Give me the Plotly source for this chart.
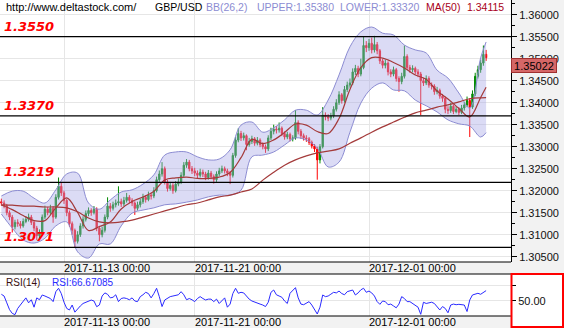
import pandas as pd
import plotly.graph_objects as go

# ---- GBP/USD, 3-hour bars (weekends excluded) ----
bar_times = [t for t in pd.date_range("2017-11-08 03:00", "2017-12-08 09:00", freq="3h")
             if t.dayofweek < 5]

first_open = 1.3175
closes = [
    1.3172, 1.3165, 1.3150, 1.3140, 1.3118, 1.3128, 1.3125, 1.3120, 1.3130, 1.3135,
    1.3140, 1.3128, 1.3115, 1.3098, 1.3105, 1.3140, 1.3158, 1.3150, 1.3160, 1.3140,
    1.3185, 1.3210, 1.3195, 1.3178, 1.3150, 1.3125, 1.3110, 1.3085, 1.3100, 1.3120,
    1.3135, 1.3148, 1.3155, 1.3150, 1.3158, 1.3115, 1.3100, 1.3110, 1.3140, 1.3165,
    1.3160, 1.3168, 1.3172, 1.3175, 1.3170, 1.3178, 1.3185, 1.3178, 1.3172, 1.3160,
    1.3168, 1.3175, 1.3185, 1.3180, 1.3190, 1.3188, 1.3200, 1.3225, 1.3238, 1.3250,
    1.3220, 1.3205, 1.3212, 1.3200, 1.3215, 1.3220, 1.3235, 1.3258, 1.3265, 1.3250,
    1.3245, 1.3240, 1.3235, 1.3242, 1.3238, 1.3230, 1.3240, 1.3232, 1.3225, 1.3238,
    1.3245, 1.3250, 1.3245, 1.3240, 1.3235, 1.3280, 1.3315, 1.3330, 1.3320, 1.3325,
    1.3305, 1.3312, 1.3318, 1.3308, 1.3315, 1.3305, 1.3300, 1.3295, 1.3320, 1.3335,
    1.3340, 1.3338, 1.3342, 1.3330, 1.3322, 1.3328, 1.3318, 1.3320, 1.3355, 1.3335,
    1.3325, 1.3320, 1.3318, 1.3310, 1.3302, 1.3295, 1.3270, 1.3300, 1.3372, 1.3368,
    1.3365, 1.3370, 1.3385, 1.3400, 1.3418, 1.3405, 1.3430, 1.3440, 1.3445, 1.3470,
    1.3478, 1.3465, 1.3480, 1.3530, 1.3525, 1.3535, 1.3520, 1.3532, 1.3518, 1.3495,
    1.3485, 1.3490, 1.3470, 1.3465, 1.3475, 1.3455, 1.3448, 1.3460, 1.3505, 1.3480,
    1.3475, 1.3478, 1.3470, 1.3465, 1.3450, 1.3445, 1.3455, 1.3440, 1.3438, 1.3425,
    1.3428, 1.3415, 1.3410, 1.3385, 1.3382, 1.3392, 1.3380, 1.3385, 1.3378, 1.3388,
    1.3395, 1.3405, 1.3390, 1.3420, 1.3460, 1.3475, 1.3490, 1.3510, 1.35022,
]
highs = [
    1.3182, 1.3178, 1.3170, 1.3155, 1.3145, 1.3134, 1.3135, 1.3131, 1.3137, 1.3142,
    1.3148, 1.3145, 1.3132, 1.3120, 1.3112, 1.3146, 1.3166, 1.3163, 1.3168, 1.3164,
    1.3192, 1.3230, 1.3218, 1.3200, 1.3182, 1.3155, 1.3130, 1.3114, 1.3108, 1.3126,
    1.3142, 1.3155, 1.3162, 1.3160, 1.3165, 1.3162, 1.3120, 1.3118, 1.3146, 1.3185,
    1.3172, 1.3175, 1.3180, 1.3210, 1.3182, 1.3186, 1.3195, 1.3190, 1.3183, 1.3176,
    1.3175, 1.3182, 1.3193, 1.3190, 1.3198, 1.3196, 1.3208, 1.3232, 1.3246, 1.3265,
    1.3255, 1.3225, 1.3220, 1.3217, 1.3222, 1.3228, 1.3242, 1.3265, 1.3272, 1.3270,
    1.3256, 1.3252, 1.3246, 1.3250, 1.3248, 1.3243, 1.3247, 1.3245, 1.3237, 1.3244,
    1.3252, 1.3257, 1.3255, 1.3250, 1.3245, 1.3286, 1.3322, 1.3342, 1.3336, 1.3332,
    1.3328, 1.3320, 1.3325, 1.3322, 1.3322, 1.3319, 1.3310, 1.3305, 1.3326, 1.3343,
    1.3350, 1.3347, 1.3355, 1.3346, 1.3335, 1.3334, 1.3332, 1.3326, 1.3383, 1.3360,
    1.3340, 1.3330, 1.3326, 1.3322, 1.3314, 1.3306, 1.3300, 1.3306, 1.3390, 1.3378,
    1.3374, 1.3377, 1.3392, 1.3408, 1.3426, 1.3422, 1.3438, 1.3448, 1.3455, 1.3478,
    1.3486, 1.3484, 1.3500, 1.3550, 1.3540, 1.3545, 1.3548, 1.3552, 1.3538, 1.3522,
    1.3500, 1.3498, 1.3494, 1.3476, 1.3482, 1.3479, 1.3460, 1.3468, 1.3530, 1.3510,
    1.3486, 1.3485, 1.3482, 1.3476, 1.3470, 1.3456, 1.3462, 1.3460, 1.3446, 1.3442,
    1.3436, 1.3432, 1.3420, 1.3414, 1.3392, 1.3400, 1.3396, 1.3392, 1.3390, 1.3395,
    1.3402, 1.3414, 1.3410, 1.3428, 1.3468, 1.3484, 1.3498, 1.3530, 1.3520,
]
lows = [
    1.3166, 1.3160, 1.3144, 1.3133, 1.3105, 1.3112, 1.3118, 1.3114, 1.3116, 1.3126,
    1.3130, 1.3122, 1.3108, 1.3088, 1.3092, 1.3100, 1.3135, 1.3144, 1.3145, 1.3127,
    1.3136, 1.3180, 1.3188, 1.3170, 1.3142, 1.3118, 1.3100, 1.3070, 1.3080, 1.3095,
    1.3114, 1.3130, 1.3142, 1.3143, 1.3146, 1.3108, 1.3085, 1.3094, 1.3105, 1.3135,
    1.3152, 1.3155, 1.3162, 1.3166, 1.3163, 1.3165, 1.3173, 1.3172, 1.3165, 1.3145,
    1.3155, 1.3162, 1.3170, 1.3173, 1.3176, 1.3180, 1.3183, 1.3196, 1.3220, 1.3232,
    1.3214, 1.3198, 1.3200, 1.3193, 1.3196, 1.3210, 1.3215, 1.3230, 1.3252, 1.3244,
    1.3238, 1.3233, 1.3228, 1.3230, 1.3231, 1.3224, 1.3225, 1.3226, 1.3216, 1.3220,
    1.3233, 1.3240, 1.3239, 1.3233, 1.3215, 1.3230, 1.3275, 1.3310, 1.3313, 1.3314,
    1.3292, 1.3300, 1.3306, 1.3302, 1.3303, 1.3299, 1.3294, 1.3286, 1.3290, 1.3315,
    1.3328, 1.3330, 1.3332, 1.3324, 1.3316, 1.3317, 1.3312, 1.3312, 1.3316, 1.3328,
    1.3318, 1.3314, 1.3311, 1.3304, 1.3296, 1.3288, 1.3225, 1.3262, 1.3296, 1.3360,
    1.3358, 1.3360, 1.3365, 1.3380, 1.3395, 1.3398, 1.3400, 1.3424, 1.3434, 1.3440,
    1.3463, 1.3458, 1.3460, 1.3476, 1.3515, 1.3518, 1.3512, 1.3514, 1.3510, 1.3488,
    1.3478, 1.3478, 1.3462, 1.3458, 1.3460, 1.3448, 1.3425, 1.3442, 1.3455, 1.3474,
    1.3468, 1.3469, 1.3464, 1.3458, 1.3372, 1.3438, 1.3440, 1.3434, 1.3430, 1.3418,
    1.3419, 1.3409, 1.3402, 1.3376, 1.3374, 1.3377, 1.3374, 1.3376, 1.3372, 1.3374,
    1.3382, 1.3390, 1.3322, 1.3386, 1.3415, 1.3455, 1.3468, 1.3484, 1.3495,
]
opens = [first_open] + closes[:-1]

# Bollinger Bands (26, 2) and MA(50), sampled every fourth bar
band_bars = list(range(0, 177, 4)) + [178]
bb_upper = [
    1.3188, 1.3199, 1.3199, 1.3183, 1.3172, 1.3202, 1.3238, 1.3240, 1.3172, 1.3158,
    1.3179, 1.3197, 1.3202, 1.3215, 1.3236, 1.3281, 1.3288, 1.3288, 1.3277, 1.3270,
    1.3272, 1.3293, 1.3349, 1.3356, 1.3333, 1.3343, 1.3361, 1.3383, 1.3383, 1.3372,
    1.3406, 1.3463, 1.3527, 1.3561, 1.3572, 1.3558, 1.3554, 1.3531, 1.3520, 1.3513,
    1.3474, 1.3456, 1.3422, 1.3388, 1.3502, 1.3538,
]
bb_lower = [
    1.3147, 1.3115, 1.3088, 1.3081, 1.3092, 1.3120, 1.3129, 1.3061, 1.3047, 1.3079,
    1.3079, 1.3120, 1.3149, 1.3156, 1.3161, 1.3168, 1.3170, 1.3174, 1.3179, 1.3186,
    1.3190, 1.3190, 1.3201, 1.3277, 1.3281, 1.3288, 1.3304, 1.3320, 1.3315, 1.3297,
    1.3254, 1.3265, 1.3333, 1.3399, 1.3433, 1.3445, 1.3429, 1.3427, 1.3406, 1.3393,
    1.3379, 1.3361, 1.3352, 1.3347, 1.3322, 1.3332,
]
ma50 = [
    1.3168, 1.3167, 1.3165, 1.3165, 1.3163, 1.3163, 1.3161, 1.3152, 1.3138, 1.3129,
    1.3127, 1.3129, 1.3133, 1.3140, 1.3147, 1.3154, 1.3161, 1.3168, 1.3172, 1.3179,
    1.3186, 1.3190, 1.3197, 1.3204, 1.3224, 1.3242, 1.3258, 1.3270, 1.3279, 1.3286,
    1.3290, 1.3295, 1.3308, 1.3320, 1.3333, 1.3345, 1.3356, 1.3367, 1.3377, 1.3383,
    1.3390, 1.3395, 1.3402, 1.3409, 1.3411, 1.34115,
]

# RSI(14)
rsi = [
    60.8, 58, 47, 36, 30, 28, 38, 43.5, 49, 55,
    47, 52, 40, 55, 52, 59.7, 58, 56, 54, 49,
    65, 70.5, 62, 48, 38, 35.5, 43.5, 32, 38, 42,
    46, 48, 49, 51.5, 50, 40.8, 43.5, 58, 63, 60.8,
    55, 56, 60, 49, 54, 55, 54, 52, 55, 50,
    49, 57, 60, 64, 62, 55, 62, 70.5, 57, 41,
    51.6, 55, 57, 58, 59, 60, 65, 60, 52, 54,
    52, 49, 54, 57, 54, 51.6, 53, 53, 49, 53,
    46, 50, 55, 40, 45, 62, 70.5, 62.4, 64, 63,
    57, 53, 50, 48, 46.5, 45, 43.5, 41, 48, 64,
    67.7, 60, 58, 56, 50, 46, 62.4, 67, 71.5, 55,
    45, 44, 46, 49, 43.5, 35, 29, 40, 59.7, 57,
    58, 61, 64, 63, 66, 62, 60, 65, 66, 67.7,
    59.7, 63, 68, 70.5, 64, 66, 63, 58, 49, 44.6,
    50, 49, 44, 45, 42, 39, 45, 57, 54, 49,
    49, 46, 43.5, 40, 28.5, 48, 46, 47, 48, 46,
    40.8, 35.5, 41, 38, 31, 43.5, 45, 44, 44.6, 44,
    43.5, 33, 51.6, 59.7, 61, 62.4, 60.8, 64, 66.67085,
]

levels = [1.3550, 1.3370, 1.3219, 1.3071]
date_ticks = ["2017-11-13 00:00", "2017-11-21 00:00", "2017-12-01 00:00"]
last_price = 1.35022

# ---- geometry helpers (pixels -> paper fractions) ----
W, H = 564, 328
AX_X = 511  # left edge of the price scale


def px_x(p):
    return p / W


def px_y(p):
    return 1 - p / H


bar_labels = [t.strftime("%Y-%m-%d %H:%M") for t in bar_times]
xs = list(range(len(closes)))
tick_pos = [bar_labels.index(d) for d in date_ticks]
bb_mid = [(u + l) / 2 for u, l in zip(bb_upper, bb_lower)]

BAND_LINE = "#8c8cd2"
BAND_FILL = "rgba(170,170,232,0.42)"
MA_COLOR = "#a43a3a"
FONT = "Liberation Sans"

fig = go.Figure()
fig.add_trace(go.Scatter(x=band_bars, y=bb_upper, mode="lines", line=dict(color=BAND_LINE, width=1, shape="spline"),
                         hoverinfo="skip", showlegend=False))
fig.add_trace(go.Scatter(x=band_bars, y=bb_lower, mode="lines", line=dict(color=BAND_LINE, width=1, shape="spline"),
                         fill="tonexty", fillcolor=BAND_FILL, hoverinfo="skip", showlegend=False))
fig.add_trace(go.Scatter(x=band_bars, y=bb_mid, mode="lines", line=dict(color=MA_COLOR, width=1.2, shape="spline"),
                         hoverinfo="skip", showlegend=False))
fig.add_trace(go.Scatter(x=band_bars, y=ma50, mode="lines", line=dict(color=MA_COLOR, width=1.2, shape="spline"),
                         hoverinfo="skip", showlegend=False))
fig.add_trace(go.Candlestick(
    x=xs, open=opens, high=highs, low=lows, close=closes,
    increasing=dict(line=dict(color="#008a00", width=1), fillcolor="#008a00"),
    decreasing=dict(line=dict(color="#ff0000", width=1), fillcolor="#ff0000"),
    whiskerwidth=0, showlegend=False))
fig.add_trace(go.Scatter(x=xs, y=rsi, mode="lines", line=dict(color="#2a2aff", width=1),
                         xaxis="x2", yaxis="y2", hoverinfo="skip", showlegend=False))

shapes = []
# price scale background and date strips
shapes.append(dict(type="rect", xref="paper", yref="paper", x0=px_x(AX_X), x1=1, y0=px_y(274), y1=1,
                   fillcolor="#f2f2f2", line=dict(width=0), layer="below"))
for top, bot in [(262, 274), (316, 328)]:
    shapes.append(dict(type="rect", xref="paper", yref="paper", x0=0, x1=px_x(AX_X), y0=px_y(bot), y1=px_y(top),
                       fillcolor="#f2f2f2", line=dict(width=0), layer="below"))
for yy in (262, 274, 316):
    shapes.append(dict(type="line", xref="paper", yref="paper", x0=0, x1=px_x(AX_X), y0=px_y(yy), y1=px_y(yy),
                       line=dict(color="black", width=1)))
# RSI scale frame
shapes.append(dict(type="rect", xref="paper", yref="paper", x0=px_x(AX_X + 0.5), x1=px_x(563), y0=px_y(327), y1=px_y(274),
                   line=dict(color="#ff0000", width=2), fillcolor="rgba(0,0,0,0)"))
# support / resistance levels
for lv in levels:
    shapes.append(dict(type="line", xref="paper", yref="y", x0=0, x1=px_x(AX_X), y0=lv, y1=lv,
                       line=dict(color="black", width=1.3)))

annotations = []
for lv in levels:
    annotations.append(dict(xref="paper", yref="y", x=px_x(2), y=lv, xanchor="left", yanchor="bottom",
                            yshift=1, showarrow=False, text=f"<b><i>{lv:.4f}</i></b>",
                            font=dict(family="DejaVu Sans", size=13, color="#ff0000")))
header = [
    ("http://www.deltastock.com/", 4, "black", 11),
    ("GBP/USD", 153, "black", 10.5),
    ("BB(26,2)", 204, BAND_LINE, 10.5),
    (f"UPPER:{bb_upper[-1]:.5f}", 255, BAND_LINE, 10.5),
    (f"LOWER:{bb_lower[-1]:.5f}", 338, BAND_LINE, 10.5),
    ("MA(50)", 424, "#a80020", 10.5),
    (f"{ma50[-1]:.5f}", 465, "#a80020", 10.5),
]
for txt, xp, col, sz in header:
    annotations.append(dict(xref="paper", yref="paper", x=px_x(xp), y=px_y(7), xanchor="left", yanchor="middle",
                            showarrow=False, text=txt, font=dict(family=FONT, size=sz, color=col)))
annotations.append(dict(xref="paper", yref="paper", x=px_x(4), y=px_y(282), xanchor="left", yanchor="middle",
                        showarrow=False, text="RSI(14)", font=dict(family=FONT, size=10, color="#3a1010")))
annotations.append(dict(xref="paper", yref="paper", x=px_x(50), y=px_y(282), xanchor="left", yanchor="middle",
                        showarrow=False, text=f"RSI:{rsi[-1]:.5f}", font=dict(family=FONT, size=10, color="#2a2aff")))
for pos, lab in zip(tick_pos, date_ticks):
    for yy in (268, 322):
        annotations.append(dict(xref="x", yref="paper", x=pos, y=px_y(yy), xanchor="left", yanchor="middle",
                                xshift=-2, showarrow=False, text=lab, font=dict(family=FONT, size=11, color="black")))
annotations.append(dict(xref="paper", yref="y", x=px_x(AX_X), y=last_price, xanchor="left", yanchor="top",
                        showarrow=False, text=f"{last_price:.5f}", width=42, height=11, borderpad=1,
                        bgcolor="#d56767", bordercolor="#a03030", borderwidth=1,
                        font=dict(family=FONT, size=11, color="black")))

px_per_bar = (369 - 64) / (tick_pos[2] - tick_pos[0])
x0_bar = tick_pos[0] - 64 / px_per_bar
x1_bar = tick_pos[0] + (AX_X - 64) / px_per_bar


def price_at(p):
    return 1.36 - (p - 14.7) / 4400


fig.update_layout(
    width=W, height=H, margin=dict(l=0, r=0, t=0, b=0),
    paper_bgcolor="white", plot_bgcolor="white",
    boxgap=0.3, hovermode=False,
    shapes=shapes, annotations=annotations,
    xaxis=dict(domain=[0, px_x(AX_X)], range=[x0_bar, x1_bar], anchor="y",
               tickvals=tick_pos, showticklabels=False, ticks="", showgrid=True, gridcolor="#e6e6e6",
               zeroline=False, showline=False, rangeslider=dict(visible=False)),
    xaxis2=dict(domain=[0, px_x(AX_X)], range=[x0_bar, x1_bar], anchor="y2", matches="x",
                tickvals=tick_pos, showticklabels=False, ticks="", showgrid=True, gridcolor="#e6e6e6",
                zeroline=False, showline=False),
    yaxis=dict(domain=[px_y(262), 1], range=[price_at(262), price_at(0)], side="right", anchor="x",
               tickmode="linear", tick0=1.30, dtick=0.005, tickformat=".5f",
               ticks="outside", ticklen=5, tickcolor="black", tickwidth=1,
               minor=dict(ticks="outside", ticklen=3, tickcolor="black", dtick=0.0025, showgrid=False),
               showgrid=True, gridcolor="#e6e6e6", zeroline=False,
               showline=True, linecolor="black", linewidth=1,
               tickfont=dict(family=FONT, size=11, color="#111111")),
    yaxis2=dict(domain=[px_y(316), px_y(274)], range=[25.8, 93.5], side="right", anchor="x2",
                tickvals=[50, 75], ticktext=["50.00", ""], ticks="outside", ticklen=4, tickcolor="black",
                showgrid=True, gridcolor="#e6e6e6", zeroline=False, showline=False,
                tickfont=dict(family=FONT, size=11, color="#111111")),
)

fig.write_html("out.html")
